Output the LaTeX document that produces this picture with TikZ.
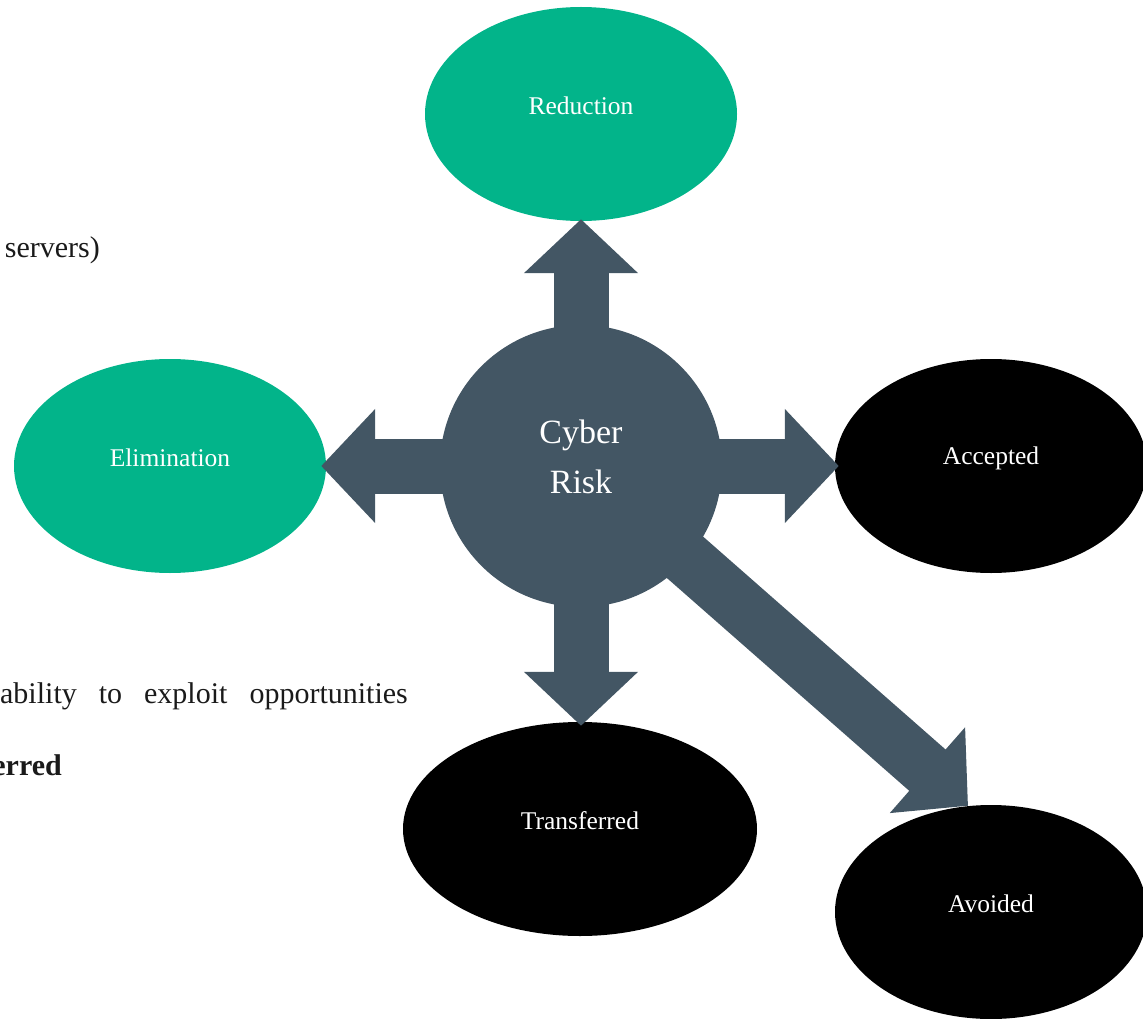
\documentclass[tikz,border=0pt]{standalone}
\usepackage{fontspec}
\setmainfont{Liberation Serif}
\usetikzlibrary{shapes.geometric,arrows.meta,calc}
\definecolor{riskgreen}{HTML}{02B48A}
\definecolor{slate}{HTML}{435664}
\definecolor{bodytext}{HTML}{1A1A1A}
\begin{document}
\begin{tikzpicture}[x=1pt,y=-1pt,
  oval/.style={ellipse, minimum width=312pt, minimum height=214pt, inner sep=0pt, draw=none},
  greenoval/.style={oval, fill=riskgreen},
  blackoval/.style={oval, fill=black},
  lbl/.style={text=white, font=\fontsize{25.5}{30}\selectfont, yshift=8pt},
  bigarrow/.style={draw=slate, line width=55pt, line cap=butt, -{Triangle[length=54pt,width=111pt]}},
  bgtext/.style={text=bodytext, inner sep=0pt, font=\fontsize{30}{36}\selectfont}
]
\useasboundingbox (0,0) rectangle (1143,1019);
\clip (0,0) rectangle (1143,1019);

% background text fragments
\node[bgtext, anchor=base east] (t1) at (100,258) {servers)};
\node[bgtext, anchor=base east] (t2) at (408,703) {\spaceskip=22pt ability to exploit opportunities};
\node[bgtext, anchor=base east, font=\fontsize{30}{36}\selectfont\bfseries] (t3) at (62,775) {erred};

% outcome ellipses
\node[greenoval, label={[lbl]center:Reduction}] (red) at (581,114) {};
\node[greenoval, label={[lbl]center:Elimination}] (eli) at (170,466) {};
\node[blackoval, label={[lbl]center:Accepted}] (acc) at (991,466) {};
\node[blackoval, minimum width=354pt, label={[lbl]center:Transferred}] (tra) at (580,829) {};
\node[blackoval, label={[lbl]center:Avoided}] (avo) at (991,912) {};

% arrows from the centre
\coordinate (cc) at (581,466);
\coordinate (avtip) at ($(avo.north)+(-23,1)$);
\draw[bigarrow] (cc) -- ($(red.south)+(0,-2)$);
\draw[bigarrow] (cc) -- ($(eli.east)+(-5,0)$);
\draw[bigarrow] (cc) -- ($(acc.west)+(4,0)$);
\draw[bigarrow] (cc) -- ($(tra.north)+(1,4)$);
\draw[bigarrow] (cc) -- (avtip);

% central circle
\node[circle, fill=slate, minimum size=282pt, inner sep=0pt] (risk) at (cc) {};
\node[text=white, align=center, inner sep=0pt, font=\fontsize{34}{50}\selectfont, yshift=9pt] (risklbl) at (risk.center) {Cyber\\Risk};
\end{tikzpicture}
\end{document}
